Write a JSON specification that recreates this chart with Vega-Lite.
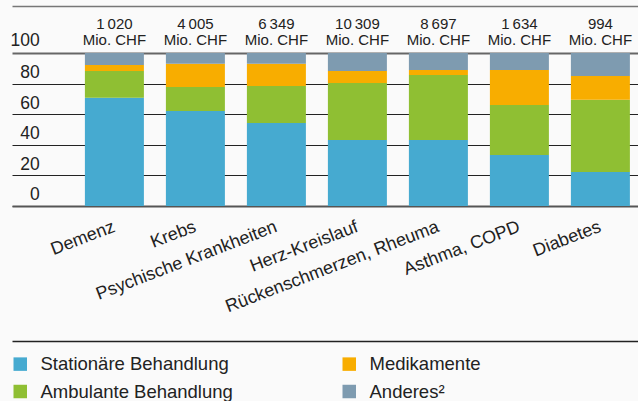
{
  "$schema": "https://vega.github.io/schema/vega-lite/v6.json",
  "width": 626,
  "height": 153,
  "autosize": {"type": "none"},
  "padding": {"left": 12, "top": 53, "right": 0, "bottom": 195},
  "background": "#fafafa",
  "config": {"view": {"stroke": null}, "font": "Liberation Sans"},
  "datasets": {
    "shares": [
      {"cat": "Demenz", "type": "Stationäre Behandlung", "ord": 0, "value": 70.8},
      {"cat": "Demenz", "type": "Ambulante Behandlung", "ord": 1, "value": 17.4},
      {"cat": "Demenz", "type": "Medikamente", "ord": 2, "value": 4.0},
      {"cat": "Demenz", "type": "Anderes²", "ord": 3, "value": 7.8},
      {"cat": "Krebs", "type": "Stationäre Behandlung", "ord": 0, "value": 62.1},
      {"cat": "Krebs", "type": "Ambulante Behandlung", "ord": 1, "value": 15.7},
      {"cat": "Krebs", "type": "Medikamente", "ord": 2, "value": 15.2},
      {"cat": "Krebs", "type": "Anderes²", "ord": 3, "value": 7.0},
      {"cat": "Psychische Krankheiten", "type": "Stationäre Behandlung", "ord": 0, "value": 54.2},
      {"cat": "Psychische Krankheiten", "type": "Ambulante Behandlung", "ord": 1, "value": 24.2},
      {"cat": "Psychische Krankheiten", "type": "Medikamente", "ord": 2, "value": 14.6},
      {"cat": "Psychische Krankheiten", "type": "Anderes²", "ord": 3, "value": 7.0},
      {"cat": "Herz-Kreislauf", "type": "Stationäre Behandlung", "ord": 0, "value": 43.1},
      {"cat": "Herz-Kreislauf", "type": "Ambulante Behandlung", "ord": 1, "value": 37.3},
      {"cat": "Herz-Kreislauf", "type": "Medikamente", "ord": 2, "value": 7.8},
      {"cat": "Herz-Kreislauf", "type": "Anderes²", "ord": 3, "value": 11.8},
      {"cat": "Rückenschmerzen, Rheuma", "type": "Stationäre Behandlung", "ord": 0, "value": 43.1},
      {"cat": "Rückenschmerzen, Rheuma", "type": "Ambulante Behandlung", "ord": 1, "value": 42.5},
      {"cat": "Rückenschmerzen, Rheuma", "type": "Medikamente", "ord": 2, "value": 3.3},
      {"cat": "Rückenschmerzen, Rheuma", "type": "Anderes²", "ord": 3, "value": 11.1},
      {"cat": "Asthma, COPD", "type": "Stationäre Behandlung", "ord": 0, "value": 33.3},
      {"cat": "Asthma, COPD", "type": "Ambulante Behandlung", "ord": 1, "value": 32.7},
      {"cat": "Asthma, COPD", "type": "Medikamente", "ord": 2, "value": 22.9},
      {"cat": "Asthma, COPD", "type": "Anderes²", "ord": 3, "value": 11.1},
      {"cat": "Diabetes", "type": "Stationäre Behandlung", "ord": 0, "value": 22.2},
      {"cat": "Diabetes", "type": "Ambulante Behandlung", "ord": 1, "value": 47.3},
      {"cat": "Diabetes", "type": "Medikamente", "ord": 2, "value": 15.5},
      {"cat": "Diabetes", "type": "Anderes²", "ord": 3, "value": 15.0}
    ],
    "totals": [
      {"cat": "Demenz", "total": "1\u2009020"},
      {"cat": "Krebs", "total": "4\u2009005"},
      {"cat": "Psychische Krankheiten", "total": "6\u2009349"},
      {"cat": "Herz-Kreislauf", "total": "10\u2009309"},
      {"cat": "Rückenschmerzen, Rheuma", "total": "8\u2009697"},
      {"cat": "Asthma, COPD", "total": "1\u2009634"},
      {"cat": "Diabetes", "total": "994"}
    ]
  },
  "resolve": {"axis": {"x": "independent", "y": "independent"}},
  "layer": [
    {
      "data": {"name": "shares"},
      "mark": {"type": "bar"},
      "encoding": {
        "x": {
          "field": "cat", "type": "nominal",
          "sort": ["Demenz", "Krebs", "Psychische Krankheiten", "Herz-Kreislauf", "Rückenschmerzen, Rheuma", "Asthma, COPD", "Diabetes"],
          "scale": {"paddingInner": 0.2716, "paddingOuter": 0.5, "align": 0.9},
          "axis": {
            "orient": "bottom", "title": null, "ticks": false,
            "domain": true, "domainColor": "#555", "domainWidth": 2,
            "labelAngle": -21, "labelAlign": "right", "labelBaseline": "middle",
            "labelPadding": 20, "labelFontSize": 18, "labelColor": "#222",
            "labelOffset": 0,
            "labelOverlap": false, "labelLimit": 400, "labelBound": false, "grid": false
          }
        },
        "y": {
          "field": "value", "type": "quantitative", "stack": "zero",
          "scale": {"domain": [0, 100], "nice": false},
          "axis": {
            "orient": "left",
            "title": null, "domain": false, "ticks": false,
            "values": [0, 20, 40, 60, 80, 100], "tickCount": 6,
            "labelOverlap": false, "labelBound": false, "labelFlush": false,
            "labelAlign": "right", "labelBaseline": "alphabetic",
            "labelPadding": -27.3, "labelFontSize": 17.5, "labelColor": "#222",
            "labelOffset": {"condition": {"test": "datum.value == 100", "value": -8}, "value": -6.2},
            "grid": true,
            "gridColor": {"condition": {"test": "datum.value == 100 || datum.value == 0", "value": "#666"}, "value": "#222"},
            "gridWidth": {"condition": {"test": "datum.value == 100", "value": 2}, "value": 1}
          }
        },
        "color": {
          "field": "type", "type": "nominal",
          "scale": {
            "domain": ["Stationäre Behandlung", "Ambulante Behandlung", "Medikamente", "Anderes²"],
            "range": ["#46aad0", "#8fbf33", "#f8ad00", "#7e9bb0"]
          },
          "legend": {
            "orient": "none", "legendX": -1, "legendY": 301.75, "columns": 2,
            "title": null, "symbolType": "square", "symbolSize": 182,
            "symbolStrokeWidth": 0, "labelFontSize": 18.5, "labelColor": "#222",
            "labelOffset": 11, "labelLimit": 400, "rowPadding": 8.5,
            "columnPadding": 107, "padding": 0
          }
        },
        "order": {"field": "ord", "type": "quantitative"}
      }
    },
    {
      "data": {"name": "totals"},
      "mark": {"type": "text", "baseline": "alphabetic", "dy": -24.4, "fontSize": 15, "color": "#222"},
      "encoding": {
        "x": {
          "field": "cat", "type": "nominal",
          "sort": ["Demenz", "Krebs", "Psychische Krankheiten", "Herz-Kreislauf", "Rückenschmerzen, Rheuma", "Asthma, COPD", "Diabetes"],
          "axis": {"orient": "top", "offset": 47, "title": null, "labels": false, "ticks": false, "grid": false, "domain": true, "domainColor": "#777", "domainWidth": 1.5}
        },
        "y": {"datum": 100, "axis": null},
        "text": {"field": "total"}
      }
    },
    {
      "data": {"name": "totals"},
      "mark": {"type": "text", "baseline": "alphabetic", "dy": -7.7, "fontSize": 15, "color": "#222"},
      "encoding": {
        "x": {
          "field": "cat", "type": "nominal",
          "sort": ["Demenz", "Krebs", "Psychische Krankheiten", "Herz-Kreislauf", "Rückenschmerzen, Rheuma", "Asthma, COPD", "Diabetes"],
          "axis": {"orient": "bottom", "offset": 135, "title": null, "labels": false, "ticks": false, "grid": false, "domain": true, "domainColor": "#222", "domainWidth": 1.5}
        },
        "y": {"datum": 100, "axis": null},
        "text": {"value": "Mio. CHF"}
      }
    }
  ]
}
